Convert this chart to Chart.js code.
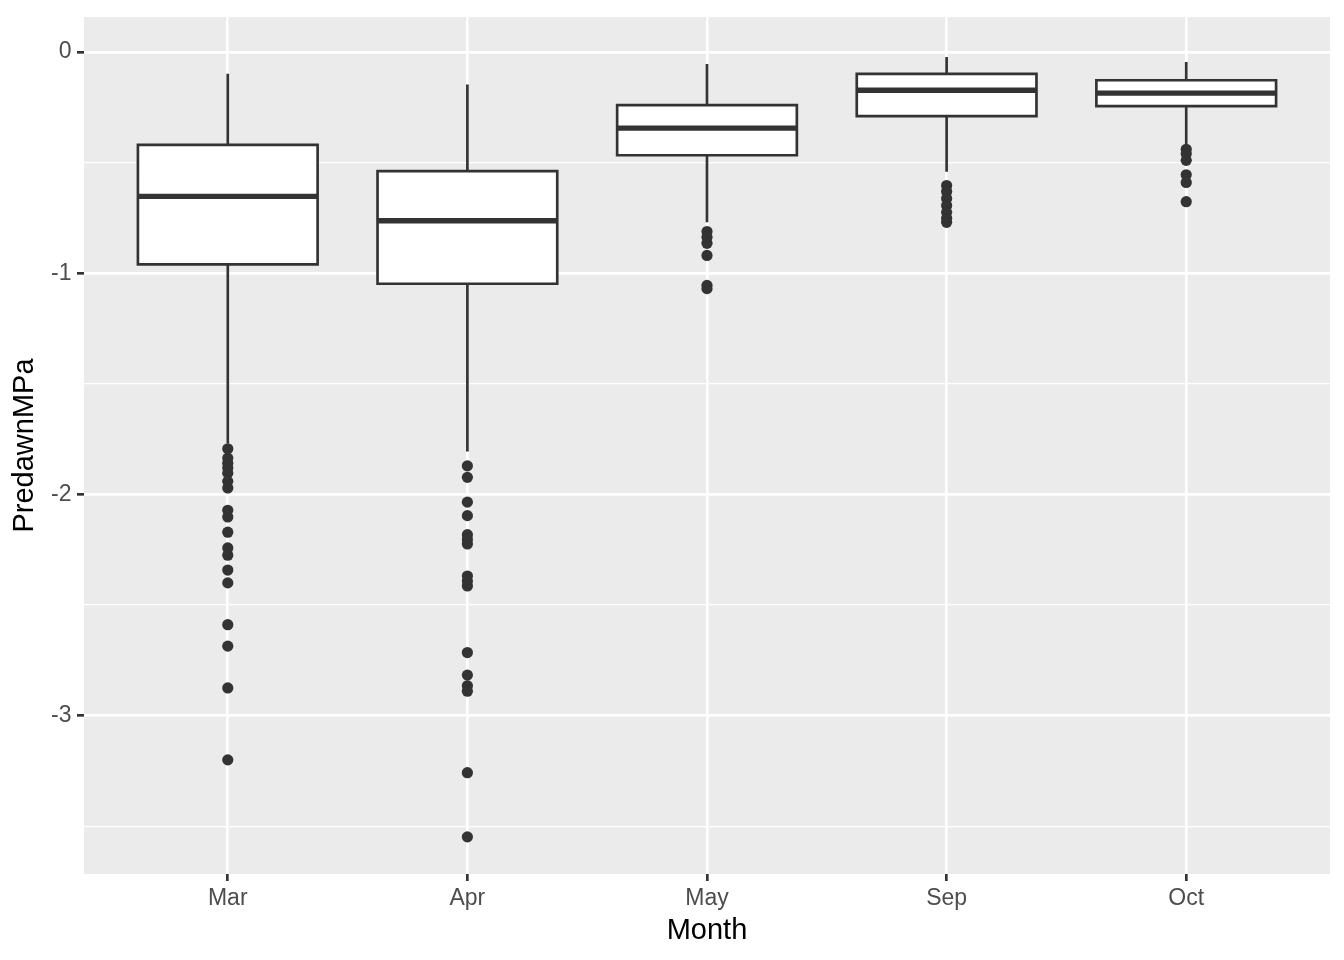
<!DOCTYPE html>
<html>
<head>
<meta charset="utf-8">
<script src="https://cdn.jsdelivr.net/npm/chart.js@4"></script>
<style>
  html, body { margin: 0; padding: 0; background: #ffffff; }
  canvas { display: block; }
</style>
</head>
<body>
<canvas id="c" width="1344" height="960"></canvas>
<script>
// ---------------- DATA ----------------
const months = ['Mar', 'Apr', 'May', 'Sep', 'Oct'];
const monthPos = [1, 2, 3, 4, 5];

const whiskerHigh = [-0.098, -0.147, -0.054, -0.023, -0.045];
const q3Values    = [-0.420, -0.539, -0.240, -0.099, -0.128];
const medians     = [-0.653, -0.763, -0.344, -0.173, -0.186];
const q1Values    = [-0.960, -1.048, -0.467, -0.290, -0.245];
const whiskerLow  = [-1.770, -1.806, -0.770, -0.542, -0.418];

const outliersMar = [-1.794, -1.836, -1.859, -1.880, -1.904, -1.941, -1.971, -2.072, -2.102,
                     -2.171, -2.242, -2.275, -2.342, -2.400, -2.589, -2.686, -2.875, -3.200];
const outliersApr = [-1.871, -1.923, -2.035, -2.096, -2.182, -2.204, -2.224, -2.369, -2.392,
                     -2.414, -2.715, -2.817, -2.865, -2.890, -3.258, -3.548];
const outliersMay = [-0.812, -0.838, -0.865, -0.920, -1.055, -1.070];
const outliersSep = [-0.604, -0.631, -0.662, -0.694, -0.725, -0.752, -0.770];
const outliersOct = [-0.440, -0.460, -0.490, -0.555, -0.590, -0.677];
const outlierGroups = [outliersMar, outliersApr, outliersMay, outliersSep, outliersOct];

const yMajorTicks = [0, -1, -2, -3];
const yMajorLabels = ['0', '-1', '-2', '-3'];
const yMinorTicks = [-0.5, -1.5, -2.5, -3.5];

// ---------------- STYLE ----------------
const HALF_BOX = 0.375;           // half box width in category units
const INK = '#333333';
const FONT = 'Liberation Sans, Arial, Helvetica, sans-serif';

// ---------------- BUILD DATASETS ----------------
const boxPts = monthPos.map((x, i) => ({ x: x, y: [q1Values[i], q3Values[i]] }));

const whiskerPts = [];
monthPos.forEach((x, i) => {
  whiskerPts.push({ x: x, y: q3Values[i] }, { x: x, y: whiskerHigh[i] }, { x: x, y: null });
  whiskerPts.push({ x: x, y: q1Values[i] }, { x: x, y: whiskerLow[i] }, { x: x, y: null });
});

const outlinePts = [];
monthPos.forEach((x, i) => {
  outlinePts.push(
    { x: x, y: q3Values[i] },
    { x: x + HALF_BOX, y: q3Values[i] },
    { x: x + HALF_BOX, y: q1Values[i] },
    { x: x - HALF_BOX, y: q1Values[i] },
    { x: x - HALF_BOX, y: q3Values[i] },
    { x: x, y: q3Values[i] },
    { x: x, y: null }
  );
});

const medianPts = [];
monthPos.forEach((x, i) => {
  medianPts.push({ x: x - HALF_BOX, y: medians[i] }, { x: x + HALF_BOX, y: medians[i] }, { x: x, y: null });
});

const outlierPts = [];
monthPos.forEach((x, i) => {
  outlierGroups[i].forEach(v => outlierPts.push({ x: x, y: v }));
});

const panelBg = {
  id: 'panelBg',
  beforeDraw(chart) {
    const { ctx, chartArea: a } = chart;
    ctx.save();
    ctx.fillStyle = '#EBEBEB';
    ctx.fillRect(a.left, a.top, a.right - a.left, a.bottom - a.top);
    ctx.restore();
  }
};

const isMajor = v => yMajorTicks.some(t => Math.abs(t - v) < 1e-9);

new Chart(document.getElementById('c').getContext('2d'), {
  type: 'bar',
  data: {
    datasets: [
      { type: 'scatter', label: 'outliers', data: outlierPts, backgroundColor: INK, borderWidth: 0,
        pointRadius: 5.6, pointHoverRadius: 5.6, order: 1 },
      { type: 'line', label: 'median', data: medianPts, borderColor: INK, borderWidth: 5.33,
        pointRadius: 0, spanGaps: false, borderCapStyle: 'butt', order: 2 },
      { type: 'line', label: 'box outline', data: outlinePts, borderColor: INK, borderWidth: 2.67,
        pointRadius: 0, spanGaps: false, borderJoinStyle: 'miter', order: 3 },
      { type: 'bar', label: 'box', data: boxPts, backgroundColor: '#FFFFFF', borderWidth: 0,
        barPercentage: 0.75, categoryPercentage: 1, order: 4 },
      { type: 'line', label: 'whiskers', data: whiskerPts, borderColor: INK, borderWidth: 2.67,
        pointRadius: 0, spanGaps: false, borderCapStyle: 'butt', order: 5 }
    ]
  },
  options: {
    responsive: false,
    animation: false,
    devicePixelRatio: 1,
    events: [],
    layout: { padding: { top: 14, right: 14, left: 0, bottom: 0 } },
    plugins: { legend: { display: false }, tooltip: { enabled: false } },
    scales: {
      x: {
        type: 'linear', min: 0.4, max: 5.6, offset: false,
        afterBuildTicks: s => { s.ticks = monthPos.map(v => ({ value: v })); },
        afterFit: s => { s.height = 86; },
        border: { display: false },
        grid: { offset: false, color: '#FFFFFF', lineWidth: 2.67, tickColor: INK, tickWidth: 2.67, tickLength: 7, drawTicks: true },
        ticks: {
          autoSkip: false, maxRotation: 0, minRotation: 0, padding: 6, color: '#4D4D4D',
          font: { family: FONT, size: 23, lineHeight: 1 },
          callback: v => { const k = monthPos.indexOf(v); return k >= 0 ? months[k] : ''; }
        },
        title: { display: true, text: 'Month', color: '#000000',
          font: { family: FONT, size: 29, lineHeight: 1 }, padding: { top: 0, bottom: 15 } }
      },
      y: {
        type: 'linear', min: -3.716, max: 0.158,
        afterBuildTicks: s => {
          s.ticks = yMajorTicks.concat(yMinorTicks).sort((a, b) => a - b).map(v => ({ value: v }));
        },
        afterFit: s => { s.width = 84; },
        border: { display: false },
        grid: {
          offset: false,
          color: '#FFFFFF',
          lineWidth: c => (c.tick && isMajor(c.tick.value)) ? 2.67 : 1.33,
          tickColor: c => (c.tick && isMajor(c.tick.value)) ? INK : 'rgba(0,0,0,0)',
          tickWidth: 2.67, tickLength: 7, drawTicks: true
        },
        ticks: {
          autoSkip: false, padding: 5.5, color: '#4D4D4D',
          font: { family: FONT, size: 23, lineHeight: 1 },
          callback: v => { const k = yMajorTicks.findIndex(t => Math.abs(t - v) < 1e-9); return k >= 0 ? yMajorLabels[k] : ''; }
        },
        title: { display: true, text: 'PredawnMPa', color: '#000000',
          font: { family: FONT, size: 29, lineHeight: 1 }, padding: { top: 10, bottom: 0 } }
      }
    }
  },
  plugins: [panelBg]
});
</script>
</body>
</html>
